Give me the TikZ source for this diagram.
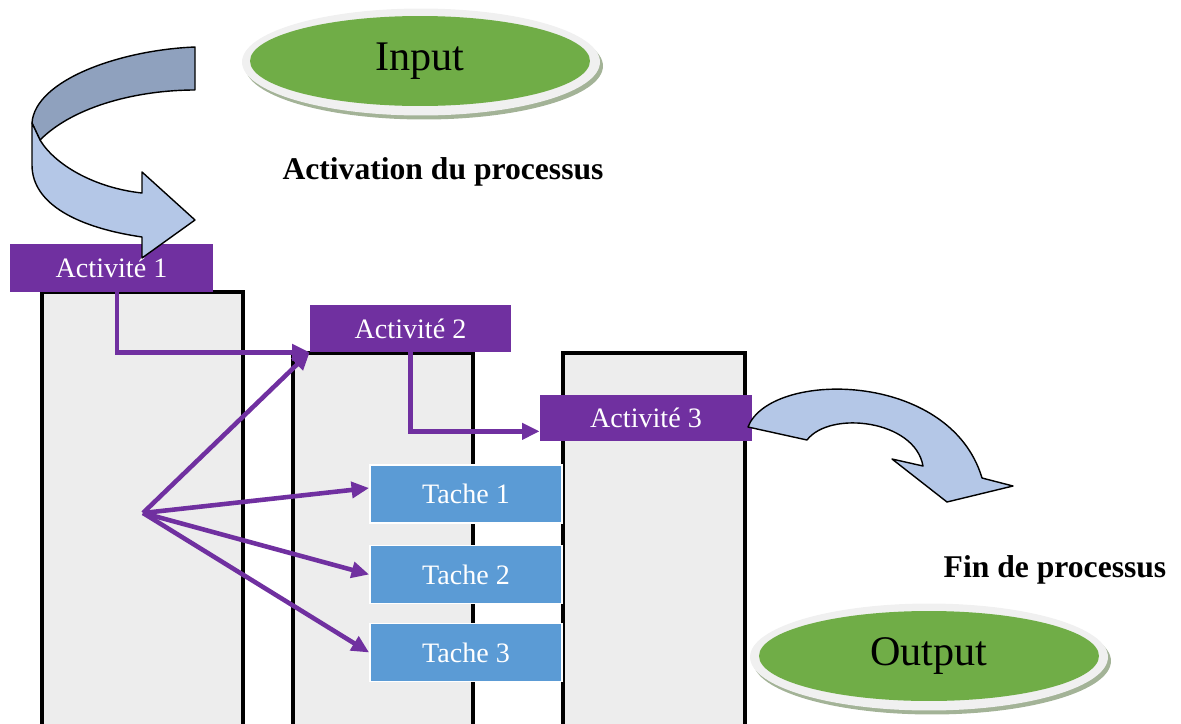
\documentclass[tikz,border=0pt]{standalone}
\usepackage{fontspec}
\setmainfont{Liberation Serif}
\usetikzlibrary{arrows.meta,positioning,shapes.geometric,calc}
\definecolor{actpurple}{HTML}{7030A0}
\definecolor{tacheblue}{HTML}{5B9BD5}
\definecolor{ovalgreen}{HTML}{70AD47}
\definecolor{colgray}{HTML}{EDEDED}
\definecolor{arrowlight}{HTML}{B4C7E7}
\definecolor{arrowdark}{HTML}{8FA1BE}
\definecolor{rimgray}{HTML}{F0F0F0}
\definecolor{rimshadow}{HTML}{A3B397}

\begin{document}
\begin{tikzpicture}[x=0.02cm,y=-0.02cm,
  col/.style={draw,line width=2pt,fill=colgray},
  act/.style={fill=actpurple,text=white,inner sep=0pt,font=\fontsize{16}{18}\selectfont},
  tache/.style={draw=white,line width=1pt,fill=tacheblue,text=white,minimum width=3.84cm,minimum height=1.16cm,inner sep=0pt,font=\fontsize{16}{18}\selectfont},
  rim/.style={ellipse,fill=rimgray,minimum width=7.16cm,minimum height=2.14cm},
  oval/.style={ellipse,fill=ovalgreen,minimum width=6.8cm,minimum height=1.8cm,inner sep=0pt,font=\fontsize{24}{28}\selectfont},
  bent/.style={draw,line width=0.8pt,line join=round},
  flow/.style={draw=actpurple,line width=2.6pt,-{Triangle[length=10pt,width=9pt]}},
  lbl/.style={font=\fontsize{18}{21}\selectfont\bfseries}
]
  \useasboundingbox (0,0) rectangle (1181,724);
  % Columns
  \draw[col] (42,292) rectangle (243,735);
  \draw[col] (293,353) rectangle (473,735);
  \draw[col] (563,353) rectangle (745,735);
  % Input / Output ovals
  \node[rim,fill=rimshadow] (inshadow) at (424,66) {};
  \node[rim] (inrim) at (421,62) {};
  \node[oval] (input) at (420,61) {Input};
  \node[rim,fill=rimshadow] (outshadow) at (932,661) {};
  \node[rim] (outrim) at (929,657) {};
  \node[oval] (output) at (929,656) {Output};
  % Labels
  \node[lbl] (start) at (443,172) {Activation du processus};
  \node[lbl] (finish) at (1055,570) {Fin de processus};
  % Activities
  \node[act,minimum width=4.06cm,minimum height=0.96cm] (act1) at (111.5,268) {Activité 1};
  \node[act,minimum width=4.02cm,minimum height=0.94cm] (act2) at (410.5,328.5) {Activité 2};
  \node[act,minimum width=4.24cm,minimum height=0.92cm] (act3) at (646,418) {Activité 3};
  % Tasks
  \node[tache] (t1) at (466,494) {Tache 1};
  \node[tache] (t2) at (466,574.5) {Tache 2};
  \node[tache] (t3) at (466,652.5) {Tache 3};
  % Curved arrow -- start
  \draw[bent,fill=arrowdark] (195,47) .. controls (120,50) and (35,80) .. (32,123)
    -- (40,140) .. controls (75,105) and (140,90) .. (195,90) -- cycle;
  \draw[bent,fill=arrowlight] (40,140) .. controls (55,165) and (95,188) .. (142,193)
    -- (142,172) -- (195,220) -- (142,258) -- (142,237)
    .. controls (80,228) and (32,205) .. (32,165) -- (32,123) -- cycle;
  % Curved arrow -- end
  \draw[bent,fill=arrowlight] (748,427) .. controls (770,370) and (950,370) .. (982,478)
    -- (1013,486) -- (947,502) -- (892,459) -- (923,466)
    .. controls (915,420) and (830,410) .. (807,440) -- cycle;
  % Flows
  \coordinate (hub) at (143,513);
  \draw[flow] ([xshift=0.11cm]act1.south) |- (act2.south west);
  \draw[flow] (act2.south) |- ([yshift=0.2cm]act3.south west);
  \draw[flow] (hub) -- (act2.south west);
  \draw[flow] (hub) -- ([yshift=0.12cm]t1.west);
  \draw[flow] (hub) -- (t2.west);
  \draw[flow] (hub) -- (t3.west);
\end{tikzpicture}
\end{document}
